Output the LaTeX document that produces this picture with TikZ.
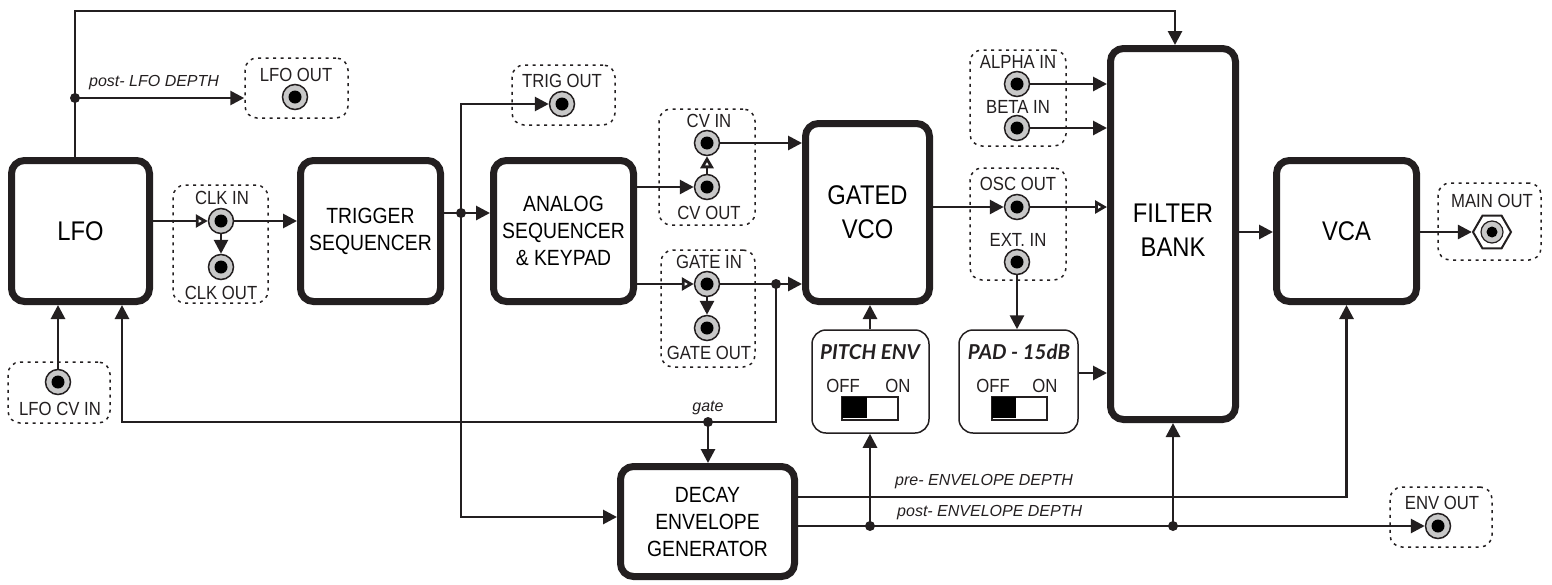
\documentclass[tikz,border=0pt]{standalone}
\usepackage{fontspec}
\setmainfont{Liberation Sans}[FakeStretch=0.88]
\newfontfamily\plainsans{Liberation Sans}
\newfontfamily\gillfont{Lato}
\usetikzlibrary{arrows.meta,shapes.geometric}
\definecolor{ink}{HTML}{231F20}
\definecolor{jackgray}{HTML}{C8C8C8}
\tikzset{
 blk/.style={draw=ink, line width=7pt, rounded corners=13pt, inner sep=0pt, align=center, fill=white},
 bigtxt/.style={font=\fontsize{27}{34}\selectfont},
 medtxt/.style={font=\fontsize{22}{27}\selectfont},
 dbox/.style={draw=ink, line width=1.5pt, dash pattern=on 3pt off 4.5pt, rounded corners=12pt, inner sep=0pt},
 jack/.style={circle, draw=ink, line width=1.5pt, fill=jackgray, minimum size=25pt, inner sep=0pt,
   path picture={\fill[black] (path picture bounding box.center) circle (6.5pt);}},
 hexjack/.style={regular polygon, regular polygon sides=6, draw=ink, line width=2pt, fill=white, minimum size=38pt, inner sep=0pt,
   path picture={\filldraw[draw=ink, line width=1.2pt, fill=jackgray] (path picture bounding box.center) circle (11pt);
                 \fill[black] (path picture bounding box.center) circle (5.5pt);}},
 lbl/.style={font=\fontsize{19}{22}\selectfont, inner sep=0pt, text=ink},
 ital/.style={font=\plainsans\itshape\fontsize{16}{19}\selectfont, inner sep=0pt, text=ink},
 swtitle/.style={font=\gillfont\bfseries\itshape\fontsize{20.5}{22}\selectfont, inner sep=0pt, text=ink},
 conn/.style={draw=ink, line width=2.8pt},
 arr/.style={-{Triangle[length=14pt,width=14pt]}},
 oarr/.style={-{Triangle[open,length=12pt,width=13pt,fill=white]}},
 dot/.style={circle, fill=ink, minimum size=10pt, inner sep=0pt},
 swbox/.style={draw=ink, line width=1.5pt, rounded corners=14pt, inner sep=0pt},
 switchrect/.style={draw=ink, line width=1.5pt, fill=white, inner sep=0pt},
}
\begin{document}
\begin{tikzpicture}[x=1pt,y=-1pt]
\useasboundingbox (0,0) rectangle (1552,584);

% dashed jack panels
\node[dbox, minimum width=103pt, minimum height=60pt] (lfooutbox) at (296.5,88) {};
\node[dbox, minimum width=95pt, minimum height=118pt] (clkbox) at (220.5,244) {};
\node[dbox, minimum width=102pt, minimum height=61pt] (lfocvbox) at (59,392.5) {};
\node[dbox, minimum width=103pt, minimum height=60pt] (trigbox) at (563.5,95) {};
\node[dbox, minimum width=96pt, minimum height=116pt] (cvbox) at (707,167) {};
\node[dbox, minimum width=94pt, minimum height=117pt] (gatebox) at (708,308.5) {};
\node[dbox, minimum width=96pt, minimum height=96pt] (abbox) at (1018,98) {};
\node[dbox, minimum width=96pt, minimum height=112pt] (oscbox) at (1018,224) {};
\node[dbox, minimum width=102pt, minimum height=60pt] (envbox) at (1441,517) {};
\node[dbox, minimum width=103pt, minimum height=77pt] (mainbox) at (1489.5,221.5) {};

% blocks
\node[blk, bigtxt, minimum width=138pt, minimum height=141pt] (lfo) at (80.5,231) {LFO};
\node[blk, medtxt, minimum width=140pt, minimum height=141pt] (trig) at (370.5,231) {TRIGGER\\SEQUENCER};
\node[blk, medtxt, minimum width=140pt, minimum height=141pt] (analog) at (563.5,231) {ANALOG\\SEQUENCER\\\&~KEYPAD};
\node[blk, bigtxt, minimum width=124pt, minimum height=178pt] (vco) at (867.5,212.5) {GATED\\VCO};
\node[blk, minimum width=125pt, minimum height=371pt] (filter) at (1173,234) {};
\node[bigtxt, align=center, inner sep=0pt] (filtertxt) at (1173,230) {FILTER\\BANK};
\node[blk, bigtxt, minimum width=140pt, minimum height=141pt] (vca) at (1346.5,231) {VCA};
\node[blk, medtxt, minimum width=174pt, minimum height=110pt] (decay) at (707.5,521.5) {DECAY\\ENVELOPE\\GENERATOR};

% switch boxes
\node[swbox, minimum width=117pt, minimum height=103pt] (pitchbox) at (870.5,381.5) {};
\node[swbox, minimum width=119pt, minimum height=103pt] (padbox) at (1018.5,381.5) {};
\node[swtitle] (pitchtitle) at (870,352) {PITCH ENV};
\node[swtitle] (padtitle) at (1019,352) {PAD - 15dB};
\node[lbl] (pitchoff) at (843,386) {OFF};
\node[lbl] (pitchon) at (898,386) {ON};
\node[lbl] (padoff) at (993,386) {OFF};
\node[lbl] (padon) at (1045,386) {ON};
\node[switchrect, minimum width=56pt, minimum height=23pt] (pitchsw) at (870,408.5) {};
\fill[black] (pitchsw.north west) ++(1,1) rectangle ++(25,21);
\node[switchrect, minimum width=55pt, minimum height=23pt] (padsw) at (1019.5,408.5) {};
\fill[black] (padsw.north west) ++(1,1) rectangle ++(24,21);

% jacks
\node[jack] (jlfoout) at (295,97) {};
\node[jack] (jclkin) at (221,221) {};
\node[jack] (jclkout) at (221,267) {};
\node[jack] (jlfocv) at (58,382) {};
\node[jack] (jtrig) at (562,104) {};
\node[jack] (jcvin) at (707,143) {};
\node[jack] (jcvout) at (707,187) {};
\node[jack] (jgatein) at (707,284) {};
\node[jack] (jgateout) at (707,328) {};
\node[jack] (jalpha) at (1017,84) {};
\node[jack] (jbeta) at (1017,128) {};
\node[jack] (josc) at (1017,207) {};
\node[jack] (jext) at (1017,262) {};
\node[jack] (jenv) at (1438,526) {};
\node[hexjack] (jmain) at (1492,232) {};

% jack labels
\node[lbl] (tlfoout) at (296,75) {LFO OUT};
\node[lbl] (tclkin) at (222,198) {CLK IN};
\node[lbl] (tclkout) at (221,293) {CLK OUT};
\node[lbl] (tlfocv) at (60,409) {LFO CV IN};
\node[lbl] (ttrig) at (562,81) {TRIG OUT};
\node[lbl] (tcvin) at (709,121) {CV IN};
\node[lbl] (tcvout) at (709,213) {CV OUT};
\node[lbl] (tgatein) at (709,262) {GATE IN};
\node[lbl] (tgateout) at (709,353) {GATE OUT};
\node[lbl] (talpha) at (1018,62) {ALPHA IN};
\node[lbl] (tbeta) at (1018,107) {BETA IN};
\node[lbl] (tosc) at (1018,184) {OSC OUT};
\node[lbl] (text) at (1018,240) {EXT. IN};
\node[lbl] (tenv) at (1442,503) {ENV OUT};
\node[lbl] (tmain) at (1492,201) {MAIN OUT};

% italic labels
\node[ital, anchor=west] (tlfodepth) at (89,83) {post- LFO DEPTH};
\node[ital] (tgate) at (708,408) {gate};
\node[ital, anchor=west] (tpre) at (895,482) {pre- ENVELOPE DEPTH};
\node[ital, anchor=west] (tpost) at (897,513) {post- ENVELOPE DEPTH};

% junction dots
\node[dot] (d1) at (75,98) {};
\node[dot] (d2) at (461,213) {};
\node[dot] (d3) at (776,284) {};
\node[dot] (d4) at (708,422) {};
\node[dot] (d5) at (870,526) {};
\node[dot] (d6) at (1173,526) {};

% helper coordinates
\coordinate (t1) at (75,11);
\coordinate (t2) at (1175,11);
\coordinate (dl) at (461,517);
\coordinate (g1) at (776,422);
\coordinate (g2) at (122,422);
\coordinate (pr) at (0,497);
\coordinate (pd) at (0,373);
\coordinate (fv) at (0,232);

% connectors
\draw[conn, arr] (t1 |- lfo.north) -- (t1) -- (t2) -- (t2 |- filter.north);
\draw[conn, arr] (d1.center) -- (d1 -| lfooutbox.west);
\draw[conn, oarr] (lfo.east |- jclkin) -- (jclkin);
\draw[conn, arr] (jclkin) -- (trig.west |- jclkin);
\draw[conn, arr] (jclkin) -- (jclkout);
\draw[conn, arr] (jlfocv) -- (jlfocv |- lfo.south);
\draw[conn, arr] (trig.east |- d2) -- (analog.west |- d2);
\draw[conn, arr] (d2.center) -- (d2 |- jtrig) -- (jtrig);
\draw[conn, arr] (d2.center) -- (dl) -- (dl -| decay.west);
\draw[conn, arr] (analog.east |- jcvout) -- (jcvout);
\draw[conn, oarr] (jcvout) -- (jcvin);
\draw[conn, arr] (jcvin) -- (vco.west |- jcvin);
\draw[conn, oarr] (analog.east |- jgatein) -- (jgatein);
\draw[conn, arr] (jgatein) -- (jgateout);
\draw[conn, arr] (jgatein) -- (vco.west |- jgatein);
\draw[conn, arr] (d3.center) -- (g1) -- (g2) -- (g2 |- lfo.south);
\draw[conn, arr] (d4.center) -- (decay.north -| d4);
\draw[conn, arr] (vco.east |- josc) -- (josc);
\draw[conn, oarr] (josc) -- (filter.west |- josc);
\draw[conn, arr] (jalpha) -- (filter.west |- jalpha);
\draw[conn, arr] (jbeta) -- (filter.west |- jbeta);
\draw[conn, arr] (jext) -- (jext |- padbox.north);
\draw[conn, arr] (padbox.east |- pd) -- (filter.west |- pd);
\draw[conn, arr] (pitchbox.north -| d5) -- (vco.south -| d5);
\draw[conn, arr] (decay.east |- pr) -| (vca.south);
\draw[conn, arr] (decay.east |- d5) -- (jenv);
\draw[conn, arr] (d5.center) -- (pitchbox.south -| d5);
\draw[conn, arr] (d6.center) -- (filter.south -| d6);
\draw[conn, arr] (filter.east |- fv) -- (vca.west |- fv);
\draw[conn, arr] (vca.east |- fv) -- (jmain);
\end{tikzpicture}
\end{document}
